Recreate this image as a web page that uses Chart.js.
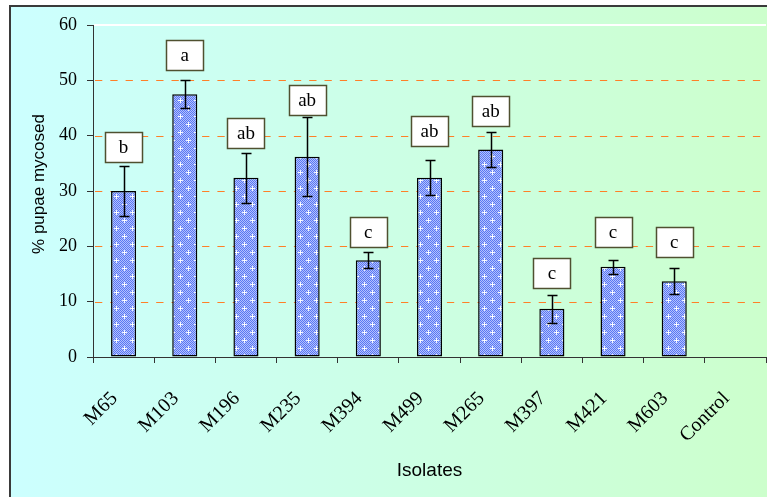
<!DOCTYPE html>
<html>
<head>
<meta charset="utf-8">
<script src="https://cdn.jsdelivr.net/npm/chart.js@4.4.1/dist/chart.umd.min.js"></script>
<style>
  html, body { margin: 0; padding: 0; background: #ffffff; }
  canvas { display: block; }
</style>
</head>
<body>
<canvas id="chart" width="767" height="497"></canvas>
<script>
// Isolates and the share of pupae mycosed (mean and error), with group letters
const categories = ['M65', 'M103', 'M196', 'M235', 'M394', 'M499', 'M265', 'M397', 'M421', 'M603', 'Control'];
const mycosed    = [30.0, 47.5, 32.4, 36.2, 17.5, 32.4, 37.5, 8.7, 16.3, 13.7, null];
const errors     = [4.6, 2.5, 4.5, 7.1, 1.4, 3.2, 3.2, 2.5, 1.3, 2.3, null];
const groups     = ['b', 'a', 'ab', 'ab', 'c', 'ab', 'ab', 'c', 'c', 'c', ''];
const groupLevel = [35.3, 51.9, 37.8, 43.8, 19.8, 38.2, 41.8, 12.4, 19.8, 18.0, null];
const yTicks     = [0, 10, 20, 30, 40, 50, 60];
const yTitle     = '% pupae mycosed';

const SERIF = "'Liberation Serif', 'Times New Roman', serif";
const SANS  = "'Liberation Sans', Arial, sans-serif";

// Blue dotted fill with small white crosses
function dottedFill() {
  const t = document.createElement('canvas');
  t.width = 16; t.height = 16;
  const g = t.getContext('2d');
  for (let y = 0; y < 16; y++) {
    for (let x = 0; x < 16; x++) {
      g.fillStyle = ((x + y) % 2 === 0) ? '#5a78f2' : '#b2c0ff';
      g.fillRect(x, y, 1, 1);
    }
  }
  [[4, 4], [12, 12]].forEach(([cx, cy]) => {
    g.fillStyle = '#e4eaff';
    g.fillRect(cx - 2, cy, 5, 1);
    g.fillRect(cx, cy - 2, 1, 5);
    g.fillStyle = '#ffffff';
    g.fillRect(cx - 1, cy, 3, 1);
    g.fillRect(cx, cy - 1, 1, 3);
  });
  return g.createPattern(t, 'repeat');
}

// Panel background and frame
const panelBackground = {
  id: 'panelBackground',
  beforeDraw(chart) {
    const ctx = chart.ctx;
    const w = chart.width, h = chart.height;
    ctx.save();
    ctx.fillStyle = '#ffffff';
    ctx.fillRect(0, 0, w, h);
    const grad = ctx.createLinearGradient(11, 0, w, 0);
    grad.addColorStop(0, '#ccffff');
    grad.addColorStop(1, '#ccffcc');
    ctx.fillStyle = grad;
    ctx.fillRect(11, 7, w - 11, h - 7);
    ctx.fillStyle = '#3a3a3a';
    ctx.fillRect(9, 5, w - 9, 2);
    ctx.fillRect(9, 5, 2, h - 5);
    ctx.restore();
  }
};

// Horizontal reference lines at the y ticks, and the vertical axis title
const levelLines = {
  id: 'levelLines',
  beforeDatasetsDraw(chart) {
    const { ctx, chartArea, scales: { y } } = chart;
    ctx.save();
    yTicks.forEach(v => {
      if (v === 0) return;
      const py = Math.round(y.getPixelForValue(v));
      ctx.beginPath();
      if (v === y.max) {
        ctx.strokeStyle = '#ffffff';
        ctx.lineWidth = 2;
        ctx.setLineDash([]);
        ctx.moveTo(chartArea.left + 1, py);
        ctx.lineTo(chartArea.right, py);
      } else {
        ctx.strokeStyle = '#ff7f27';
        ctx.lineWidth = 1;
        ctx.setLineDash([7.3, 8]);
        ctx.moveTo(chartArea.left + 2, py + 0.5);
        ctx.lineTo(chartArea.right, py + 0.5);
      }
      ctx.stroke();
    });
    ctx.setLineDash([]);
    ctx.translate(39, (chartArea.top + chartArea.bottom) / 2 - 7);
    ctx.rotate(-Math.PI / 2);
    ctx.fillStyle = '#000000';
    ctx.font = '17px ' + SANS;
    ctx.textAlign = 'center';
    ctx.textBaseline = 'middle';
    ctx.fillText(yTitle, 0, 0);
    ctx.restore();
  }
};

// Error bars and group letters above each bar
const barExtras = {
  id: 'barExtras',
  afterDatasetsDraw(chart) {
    const { ctx, scales: { y } } = chart;
    const meta = chart.getDatasetMeta(0);
    ctx.save();
    meta.data.forEach((bar, i) => {
      const v = mycosed[i];
      if (v === null) return;
      const x = Math.round(bar.x) + 0.5;
      const e = errors[i];
      if (e) {
        const yt = Math.round(y.getPixelForValue(v + e)) + 0.5;
        const yb = Math.round(y.getPixelForValue(v - e)) + 0.5;
        ctx.strokeStyle = '#000000';
        ctx.lineWidth = 1.5;
        ctx.beginPath();
        ctx.moveTo(x, yt); ctx.lineTo(x, yb);
        ctx.moveTo(x - 5, yt); ctx.lineTo(x + 5, yt);
        ctx.moveTo(x - 5, yb); ctx.lineTo(x + 5, yb);
        ctx.stroke();
      }
      if (groups[i]) {
        const bw = 37, bh = 30;
        const by = Math.round(y.getPixelForValue(groupLevel[i]));
        const bx = Math.round(bar.x - bw / 2);
        ctx.fillStyle = '#ffffff';
        ctx.fillRect(bx, by - bh, bw, bh);
        ctx.strokeStyle = '#4f5030';
        ctx.lineWidth = 1.5;
        ctx.strokeRect(bx + 0.5, by - bh + 0.5, bw, bh);
        ctx.fillStyle = '#000000';
        ctx.font = '19px ' + SERIF;
        ctx.textAlign = 'center';
        ctx.textBaseline = 'middle';
        ctx.fillText(groups[i], bar.x, by - bh / 2 + 1);
      }
    });
    ctx.restore();
  }
};

new Chart(document.getElementById('chart'), {
  type: 'bar',
  data: {
    labels: categories,
    datasets: [{
      data: mycosed,
      backgroundColor: dottedFill(),
      borderColor: '#000000',
      borderWidth: 1.5,
      borderSkipped: false,
      barPercentage: 0.41,
      categoryPercentage: 1
    }]
  },
  options: {
    responsive: false,
    animation: false,
    devicePixelRatio: 1,
    layout: { padding: { left: 0, right: 1, top: 25, bottom: 0 } },
    plugins: {
      legend: { display: false },
      tooltip: { enabled: false }
    },
    scales: {
      x: {
        grid: { display: true, drawOnChartArea: false, tickLength: 6, color: '#333333', offset: true },
        border: { display: true, color: '#333333', width: 1 },
        ticks: {
          autoSkip: false, minRotation: 45, maxRotation: 45,
          padding: 24, labelOffset: -9,
          color: '#000000', font: { family: SERIF, size: 20 }
        },
        title: {
          display: true, text: 'Isolates', color: '#000000',
          font: { family: SANS, size: 19 }, padding: { top: 0, bottom: 15 }
        },
        afterFit(scale) {
          scale.height = 140;
          scale.paddingLeft = 0;
          scale.paddingRight = 0;
        }
      },
      y: {
        min: 0, max: 60,
        afterBuildTicks(scale) { scale.ticks = yTicks.map(v => ({ value: v })); },
        grid: { display: true, drawOnChartArea: false, tickLength: 6, color: '#333333' },
        border: { display: true, color: '#333333', width: 1 },
        ticks: { padding: 10, color: '#000000', font: { family: SERIF, size: 18 } },
        title: { display: false },
        afterFit(scale) { scale.width = 93; }
      }
    }
  },
  plugins: [panelBackground, levelLines, barExtras]
});
</script>
</body>
</html>
